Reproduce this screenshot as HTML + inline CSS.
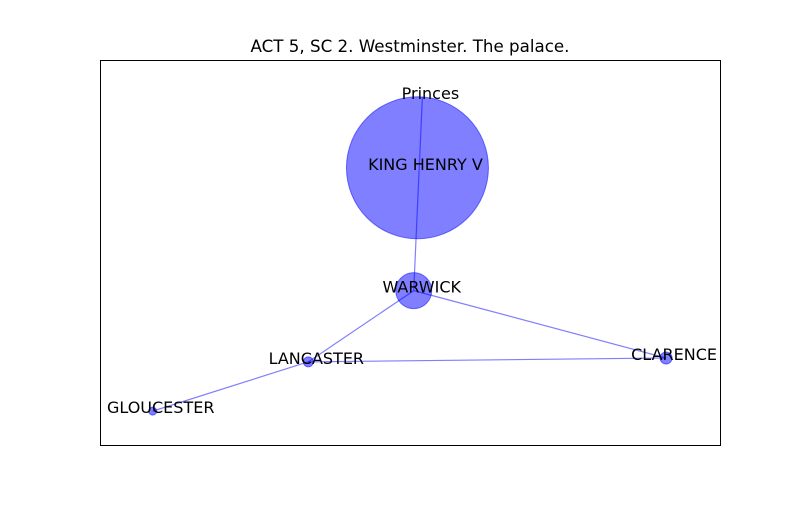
<!DOCTYPE html>
<html><head><meta charset="utf-8"><style>
body{margin:0;background:#fff;}
svg text{font-family:"DejaVu Sans","Liberation Sans",sans-serif;}
</style></head><body>
<svg id="chart" width="800" height="500" xmlns="http://www.w3.org/2000/svg">
<rect x="0" y="0" width="800" height="500" fill="#fff"/>
<text x="410" y="52" text-anchor="middle" font-size="16.7" fill="#000">ACT 5, SC 2. Westminster. The palace.</text>
<g id="edges"></g><g id="nodes"></g><g id="labels"></g>
<rect x="100.5" y="60.5" width="620" height="385" fill="none" stroke="#000" stroke-width="1"/>
</svg>
<script>
const nodeNames = ["Princes","KING HENRY V","WARWICK","LANCASTER","GLOUCESTER","CLARENCE"];
const nodeX = [0.520,0.512,0.506,0.336,0.085,0.913];
const nodeY = [0.904,0.720,0.401,0.216,0.088,0.226];
const nodeR = [0,71,18,5,4,6];
const edgeFrom = ["Princes","WARWICK","WARWICK","LANCASTER","LANCASTER"];
const edgeTo = ["WARWICK","LANCASTER","CLARENCE","CLARENCE","GLOUCESTER"];
// label offset (style, pixels)
const LDX=8, LDY=2;

const X0=100,X1=720,Y0=445,Y1=60;
function sx(v){return X0+v*(X1-X0);}
function sy(v){return Y0-v*(Y0-Y1);}
const NS="http://www.w3.org/2000/svg";
const eg=document.getElementById('edges'),ng=document.getElementById('nodes'),lg=document.getElementById('labels');
function idx(n){return nodeNames.indexOf(n);}
function slug(s){return s.toLowerCase().replace(/[^a-z0-9]+/g,'-');}
for(let i=0;i<edgeFrom.length;i++){
  const a=idx(edgeFrom[i]),b=idx(edgeTo[i]);
  const l=document.createElementNS(NS,'line');
  l.setAttribute('x1',sx(nodeX[a]));l.setAttribute('y1',sy(nodeY[a]));
  l.setAttribute('x2',sx(nodeX[b]));l.setAttribute('y2',sy(nodeY[b]));
  l.setAttribute('stroke','#0000ff');l.setAttribute('stroke-opacity','0.5');l.setAttribute('stroke-width','1.2');
  
  
  eg.appendChild(l);
}
for(let i=0;i<nodeNames.length;i++){
  if(nodeR[i]>0){
    const c=document.createElementNS(NS,'circle');
    c.setAttribute('cx',sx(nodeX[i]));c.setAttribute('cy',sy(nodeY[i]));c.setAttribute('r',nodeR[i]);
    c.setAttribute('fill','#0000ff');c.setAttribute('fill-opacity','0.5');
    c.setAttribute('stroke','#0000ff');c.setAttribute('stroke-opacity','0.5');
    
    
    ng.appendChild(c);
  }
  const t=document.createElementNS(NS,'text');
  t.setAttribute('x',sx(nodeX[i])+LDX);t.setAttribute('y',sy(nodeY[i])+LDY);
  t.setAttribute('text-anchor','middle');t.setAttribute('font-size','16');t.setAttribute('fill','#000');
  t.textContent=nodeNames[i];
  
  
  lg.appendChild(t);
}
</script>
</body></html>
